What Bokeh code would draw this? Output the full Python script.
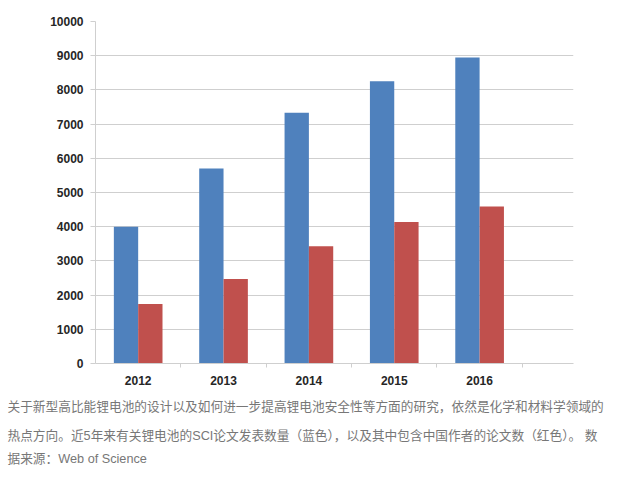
from bokeh.plotting import figure
from bokeh.models import FixedTicker, NumeralTickFormatter, Range1d, Title
from bokeh.embed import file_html
from bokeh.resources import INLINE

years = ["2012", "2013", "2014", "2015", "2016"]
all_papers = [4000, 5700, 7330, 8250, 8950]      # blue
china_papers = [1740, 2470, 3430, 4140, 4590]    # red
y_ticks = [0, 1000, 2000, 3000, 4000, 5000, 6000, 7000, 8000, 9000, 10000]
caption_lines = [
    "关于新型高比能锂电池的设计以及如何进一步提高锂电池安全性等方面的研究，依然是化学和材料学领域的",
    "热点方向。近5年来有关锂电池的SCI论文发表数量（蓝色），以及其中包含中国作者的论文数（红色）。 数",
    "据来源：Web of Science",
]

BLUE = "#4f81bd"
RED = "#c0504d"
GRID = "#cfcfcf"

FW, FH = 478, 342
BL, BR, BT = 95, 39, 21
X_END, Y_END = 5.6, 10000

p = figure(
    frame_width=FW, frame_height=FH,
    min_border_left=BL, min_border_right=BR, min_border_top=BT, min_border_bottom=0,
    output_backend="svg", toolbar_location=None,
    x_range=Range1d(0, X_END), y_range=Range1d(0, Y_END),
)
p.outline_line_color = None
p.background_fill_color = "white"
p.border_fill_color = "white"

n = len(years)
centers = [i + 0.5 for i in range(n)]
bw = 0.285
p.vbar(x=[c - bw / 2 for c in centers], top=all_papers, width=bw,
       fill_color=BLUE, line_color=None)
p.vbar(x=[c + bw / 2 for c in centers], top=china_papers, width=bw,
       fill_color=RED, line_color=None)

# x axis
xa = p.xaxis[0]
xa.ticker = FixedTicker(ticks=centers, minor_ticks=[i + 1 for i in range(n)])
xa.major_label_overrides = {c: y for c, y in zip(centers, years)}
xa.major_tick_out = 0
xa.major_tick_in = 0
xa.minor_tick_out = 4
xa.minor_tick_in = 0
xa.minor_tick_line_color = GRID
xa.axis_line_color = GRID
xa.major_label_standoff = 8
xa.major_label_text_font = "Liberation Sans"
xa.major_label_text_font_style = "bold"
xa.major_label_text_font_size = "12px"
xa.major_label_text_color = "#262626"

# y axis
ya = p.yaxis[0]
ya.ticker = FixedTicker(ticks=y_ticks)
ya.formatter = NumeralTickFormatter(format="0")
ya.major_tick_out = 5
ya.major_tick_in = 0
ya.minor_tick_line_color = None
ya.major_tick_line_color = GRID
ya.axis_line_color = GRID
ya.major_label_standoff = 7
ya.major_label_text_font = "Liberation Sans"
ya.major_label_text_font_style = "bold"
ya.major_label_text_font_size = "12px"
ya.major_label_text_color = "#262626"

p.xgrid.grid_line_color = None
p.ygrid.grid_line_color = GRID
p.ygrid.ticker = FixedTicker(ticks=y_ticks)

# caption lines as titles stacked below the x axis
standoffs = [20, 6, 8]
for line, so in zip(caption_lines, standoffs):
    p.add_layout(Title(
        text=line, align="left", offset=-88, standoff=so,
        text_font="Liberation Sans, Noto Sans CJK SC",
        text_font_size="12.7px", text_font_style="normal",
        text_color="#777777",
    ), "below")

open("out.html", "w").write(file_html(p, INLINE))
